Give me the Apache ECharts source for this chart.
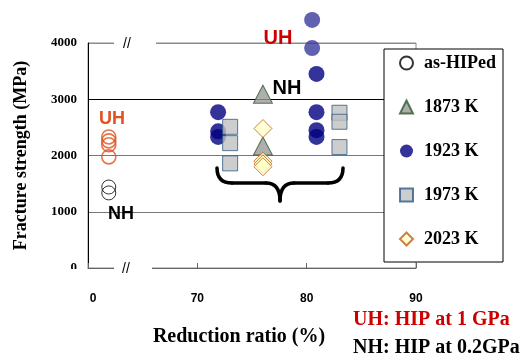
<!DOCTYPE html>
<html><head><meta charset="utf-8">
<script src="https://cdn.jsdelivr.net/npm/echarts@6/dist/echarts.min.js"></script>
<style>html,body{margin:0;padding:0;background:#fff}#c{width:520px;height:358px}</style>
</head><body><div id="c"></div>
<script>
// ---- data (reduction ratio %, fracture strength MPa) ----
const seriesNames = ['as-HIPed', '1873 K', '1923 K', '1973 K', '2023 K'];
const xTickValues = [60, 70, 80, 90];
const xTickLabels = ['0', '70', '80', '90'];
const yTickValues = [0, 1000, 2000, 3000, 4000];

const asHipedRatio    = [0, 0, 0, 0, 0, 0];
const asHipedStrength = [2330, 2260, 2190, 1975, 1440, 1335];
const asHipedHip      = ['UH', 'UH', 'UH', 'UH', 'NH', 'NH'];

const k1873Ratio    = [76, 76];
const k1873Strength = [3090, 2170];

const k1923Ratio    = [71.9, 71.9, 71.9, 80.5, 80.5, 80.9, 80.9, 80.9, 80.9];
const k1923Strength = [2770, 2430, 2330, 4410, 3910, 3450, 2770, 2450, 2330];
const k1923Hip      = ['NH', 'NH', 'NH', 'UH', 'UH', 'NH', 'NH', 'NH', 'NH'];

const k1973Ratio    = [73, 73, 73, 83, 83, 83];
const k1973Strength = [2510, 2220, 1860, 2760, 2600, 2150];

const k2023Ratio    = [76, 76, 76, 76];
const k2023Strength = [2480, 1900, 1850, 1800];

// broken x axis: 0 % is drawn just right of the break start
const BREAK_POS = 61.9;
function toAxis(r) { return r < 60 ? BREAK_POS + r : r; }
function pts(rs, ss) { return rs.map((r, i) => [toAxis(r), ss[i]]); }

const chart = echarts.init(document.getElementById('c'));
const serif = 'Liberation Serif';
const sans = 'Liberation Sans';
const braceStyle = { stroke: '#000', lineWidth: 3.5, fill: null, lineCap: 'round' };

const option = {
  animation: false,
  backgroundColor: '#fff',
  grid: { left: 88, top: 43, right: 104, bottom: 90, show: true, borderColor: '#8a8a8a', borderWidth: 1 },
  xAxis: {
    type: 'value', min: 60, max: 90, interval: 10,
    axisLine: { show: true, lineStyle: { color: '#666', width: 1 } },
    axisTick: { show: true, inside: true, length: 5, lineStyle: { color: '#666' } },
    splitLine: { show: false },
    axisLabel: {
      margin: 25, fontFamily: sans, fontWeight: 'bold', fontSize: 12, color: '#000',
      formatter: v => {
        const i = xTickValues.indexOf(v);
        const t = i >= 0 ? xTickLabels[i] : '';
        return i === 0 ? '{z|' + t + '}' : t;
      },
      rich: { z: { padding: [0, 0, 0, 10], fontFamily: sans, fontWeight: 'bold', fontSize: 12, color: '#000' } }
    }
  },
  yAxis: {
    type: 'value', min: 0, max: 4000, interval: 1000,
    name: 'Fracture strength (MPa)', nameLocation: 'middle', nameGap: 58,
    nameTextStyle: { fontFamily: serif, fontWeight: 'bold', fontSize: 18, color: '#000' },
    axisLine: { show: true, lineStyle: { color: '#000', width: 1 } },
    axisTick: { show: false },
    axisLabel: { margin: 11, fontFamily: serif, fontWeight: 'bold', fontSize: 13, color: '#000', formatter: v => String(v) },
    splitLine: { show: true, lineStyle: { color: ['#777', '#777', '#777', '#000', '#8a8a8a'], width: 1 } }
  },
  legend: {
    orient: 'vertical', left: 384, top: 49,
    data: seriesNames,
    backgroundColor: '#fff', borderColor: '#000', borderWidth: 1,
    padding: [5, 7, 14, 15],
    itemWidth: 13, itemHeight: 13, itemGap: 26,
    textStyle: { fontFamily: serif, fontWeight: 'bold', fontSize: 18, color: '#000', padding: [0, 0, 0, 6] }
  },
  series: [
    {
      name: seriesNames[0], type: 'scatter', symbol: 'circle', symbolSize: 14, clip: false,
      itemStyle: { color: 'rgba(255,255,255,0)', borderColor: '#000', borderWidth: 1 },
      data: pts(asHipedRatio, asHipedStrength).map((p, i) => ({
        value: p,
        itemStyle: { borderColor: asHipedHip[i] === 'UH' ? '#E0521F' : '#000', borderWidth: asHipedHip[i] === 'UH' ? 1.6 : 1 }
      }))
    },
    {
      name: seriesNames[1], type: 'scatter', symbol: 'triangle', symbolSize: [19, 18], clip: false,
      itemStyle: { color: '#9a9a9a', borderColor: '#2f5a2f', borderWidth: 1 },
      data: pts(k1873Ratio, k1873Strength)
    },
    {
      name: seriesNames[2], type: 'scatter', symbol: 'circle', symbolSize: 16, clip: false,
      itemStyle: { color: '#000080' },
      data: pts(k1923Ratio, k1923Strength).map((p, i) => ({
        value: p,
        itemStyle: { color: k1923Hip[i] === 'UH' ? '#3a3a9e' : '#000080' }
      }))
    },
    {
      name: seriesNames[3], type: 'scatter', symbol: 'rect', symbolSize: 15, clip: false,
      itemStyle: { color: '#c0c0c0', borderColor: '#2f5a85', borderWidth: 1 },
      data: pts(k1973Ratio, k1973Strength)
    },
    {
      name: seriesNames[4], type: 'scatter', symbol: 'diamond', symbolSize: 18, clip: false,
      itemStyle: { color: '#ffffc8', borderColor: '#c0601a', borderWidth: 1 },
      data: pts(k2023Ratio, k2023Strength)
    }
  ],
  graphic: [
    // axis breaks
    { type: 'rect', shape: { x: 114, y: 40, width: 42, height: 6 }, style: { fill: '#fff' }, z: 10 },
    { type: 'text', x: 127, y: 44, style: { text: '//', font: '14px ' + sans, fill: '#000', align: 'center', verticalAlign: 'middle' }, z: 11 },
    { type: 'rect', shape: { x: 114, y: 265, width: 38, height: 6 }, style: { fill: '#fff' }, z: 10 },
    { type: 'text', x: 126, y: 269, style: { text: '//', font: '14px ' + sans, fill: '#000', align: 'center', verticalAlign: 'middle' }, z: 11 },
    { type: 'rect', shape: { x: 55, y: 269, width: 30, height: 12 }, style: { fill: '#fff' }, z: 10 },
    // annotations
    { type: 'text', x: 112, y: 119, style: { text: 'UH', font: 'bold 18px ' + sans, fill: '#E0521F', align: 'center', verticalAlign: 'middle' }, z: 11 },
    { type: 'text', x: 121, y: 214, style: { text: 'NH', font: 'bold 18px ' + sans, fill: '#000', align: 'center', verticalAlign: 'middle' }, z: 11 },
    { type: 'text', x: 278, y: 38, style: { text: 'UH', font: 'bold 20px ' + sans, fill: '#CC0000', align: 'center', verticalAlign: 'middle' }, z: 11 },
    { type: 'text', x: 287, y: 88, style: { text: 'NH', font: 'bold 20px ' + sans, fill: '#000', align: 'center', verticalAlign: 'middle' }, z: 11 },
    // brace
    { type: 'bezierCurve', shape: { x1: 217, y1: 168, cpx1: 217, cpy1: 183, x2: 232, y2: 183 }, style: braceStyle, z: 11 },
    { type: 'line', shape: { x1: 232, y1: 183, x2: 266, y2: 183 }, style: braceStyle, z: 11 },
    { type: 'bezierCurve', shape: { x1: 266, y1: 183, cpx1: 280, cpy1: 183, x2: 280, y2: 201 }, style: braceStyle, z: 11 },
    { type: 'bezierCurve', shape: { x1: 280, y1: 201, cpx1: 280, cpy1: 183, x2: 294, y2: 183 }, style: braceStyle, z: 11 },
    { type: 'line', shape: { x1: 294, y1: 183, x2: 328, y2: 183 }, style: braceStyle, z: 11 },
    { type: 'bezierCurve', shape: { x1: 328, y1: 183, cpx1: 343, cpy1: 183, x2: 343, y2: 168 }, style: braceStyle, z: 11 },
    // axis title and notes
    { type: 'text', x: 239, y: 337, style: { text: 'Reduction ratio (%)', font: 'bold 20px ' + serif, fill: '#000', align: 'center', verticalAlign: 'middle' }, z: 11 },
    { type: 'text', x: 353, y: 320, style: { text: 'UH: HIP at 1 GPa', font: 'bold 20px ' + serif, fill: '#CC0000', align: 'left', verticalAlign: 'middle' }, z: 11 },
    { type: 'text', x: 353, y: 348, style: { text: 'NH: HIP at 0.2GPa', font: 'bold 20px ' + serif, fill: '#000', align: 'left', verticalAlign: 'middle' }, z: 11 }
  ]
};
chart.setOption(option);
</script></body></html>
